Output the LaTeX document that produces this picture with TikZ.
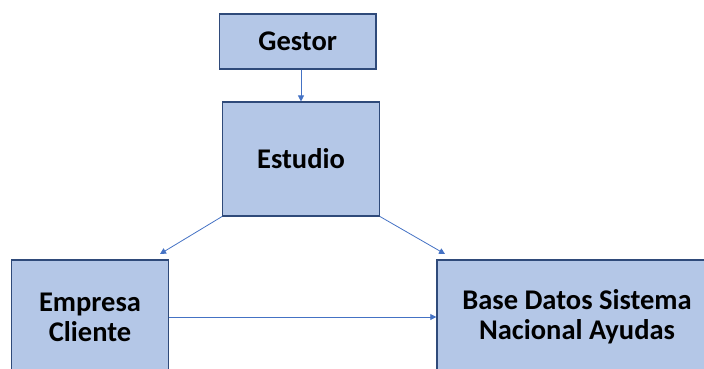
\documentclass[tikz,border=0pt]{standalone}
\usepackage{fontspec}
\setmainfont{Carlito}
\usetikzlibrary{arrows.meta,calc}
\definecolor{boxfill}{HTML}{B4C7E7}
\definecolor{boxline}{HTML}{2F4A7A}
\definecolor{arrowc}{HTML}{4472C4}
\begin{document}
\begin{tikzpicture}[x=1pt,y=-1pt,
  box/.style={draw=boxline,fill=boxfill,line width=1.4pt,inner sep=0pt,align=center,
    font=\fontsize{28.5}{30}\selectfont\bfseries},
  conn/.style={draw=arrowc,line width=0.8pt,-{Triangle[length=6pt,width=6pt]}}]
\useasboundingbox (0,0) rectangle (704,369);
\clip (0,0) rectangle (704,369);
\node[box,minimum width=156.5pt,minimum height=55pt] (gestor) at (297.75,41.5) {Gestor};
\node[box,minimum width=156.6pt,minimum height=113.7pt] (estudio) at (301,159) {Estudio};
\node[box,minimum width=156.6pt,minimum height=114pt] (empresa) at (90,317) {Empresa\\Cliente};
\node[box,minimum width=280pt,minimum height=114pt] (base) at (577,317) {Base Datos Sistema\\Nacional Ayudas};
\coordinate (tl) at (160,254);
\coordinate (tr) at (445,254);
\draw[conn] (estudio.north |- gestor.south) -- (estudio.north);
\draw[conn] (estudio.south west) -- (tl);
\draw[conn] (estudio.south east) -- (tr);
\draw[conn] (empresa.east) -- (base.west);
\end{tikzpicture}
\end{document}
